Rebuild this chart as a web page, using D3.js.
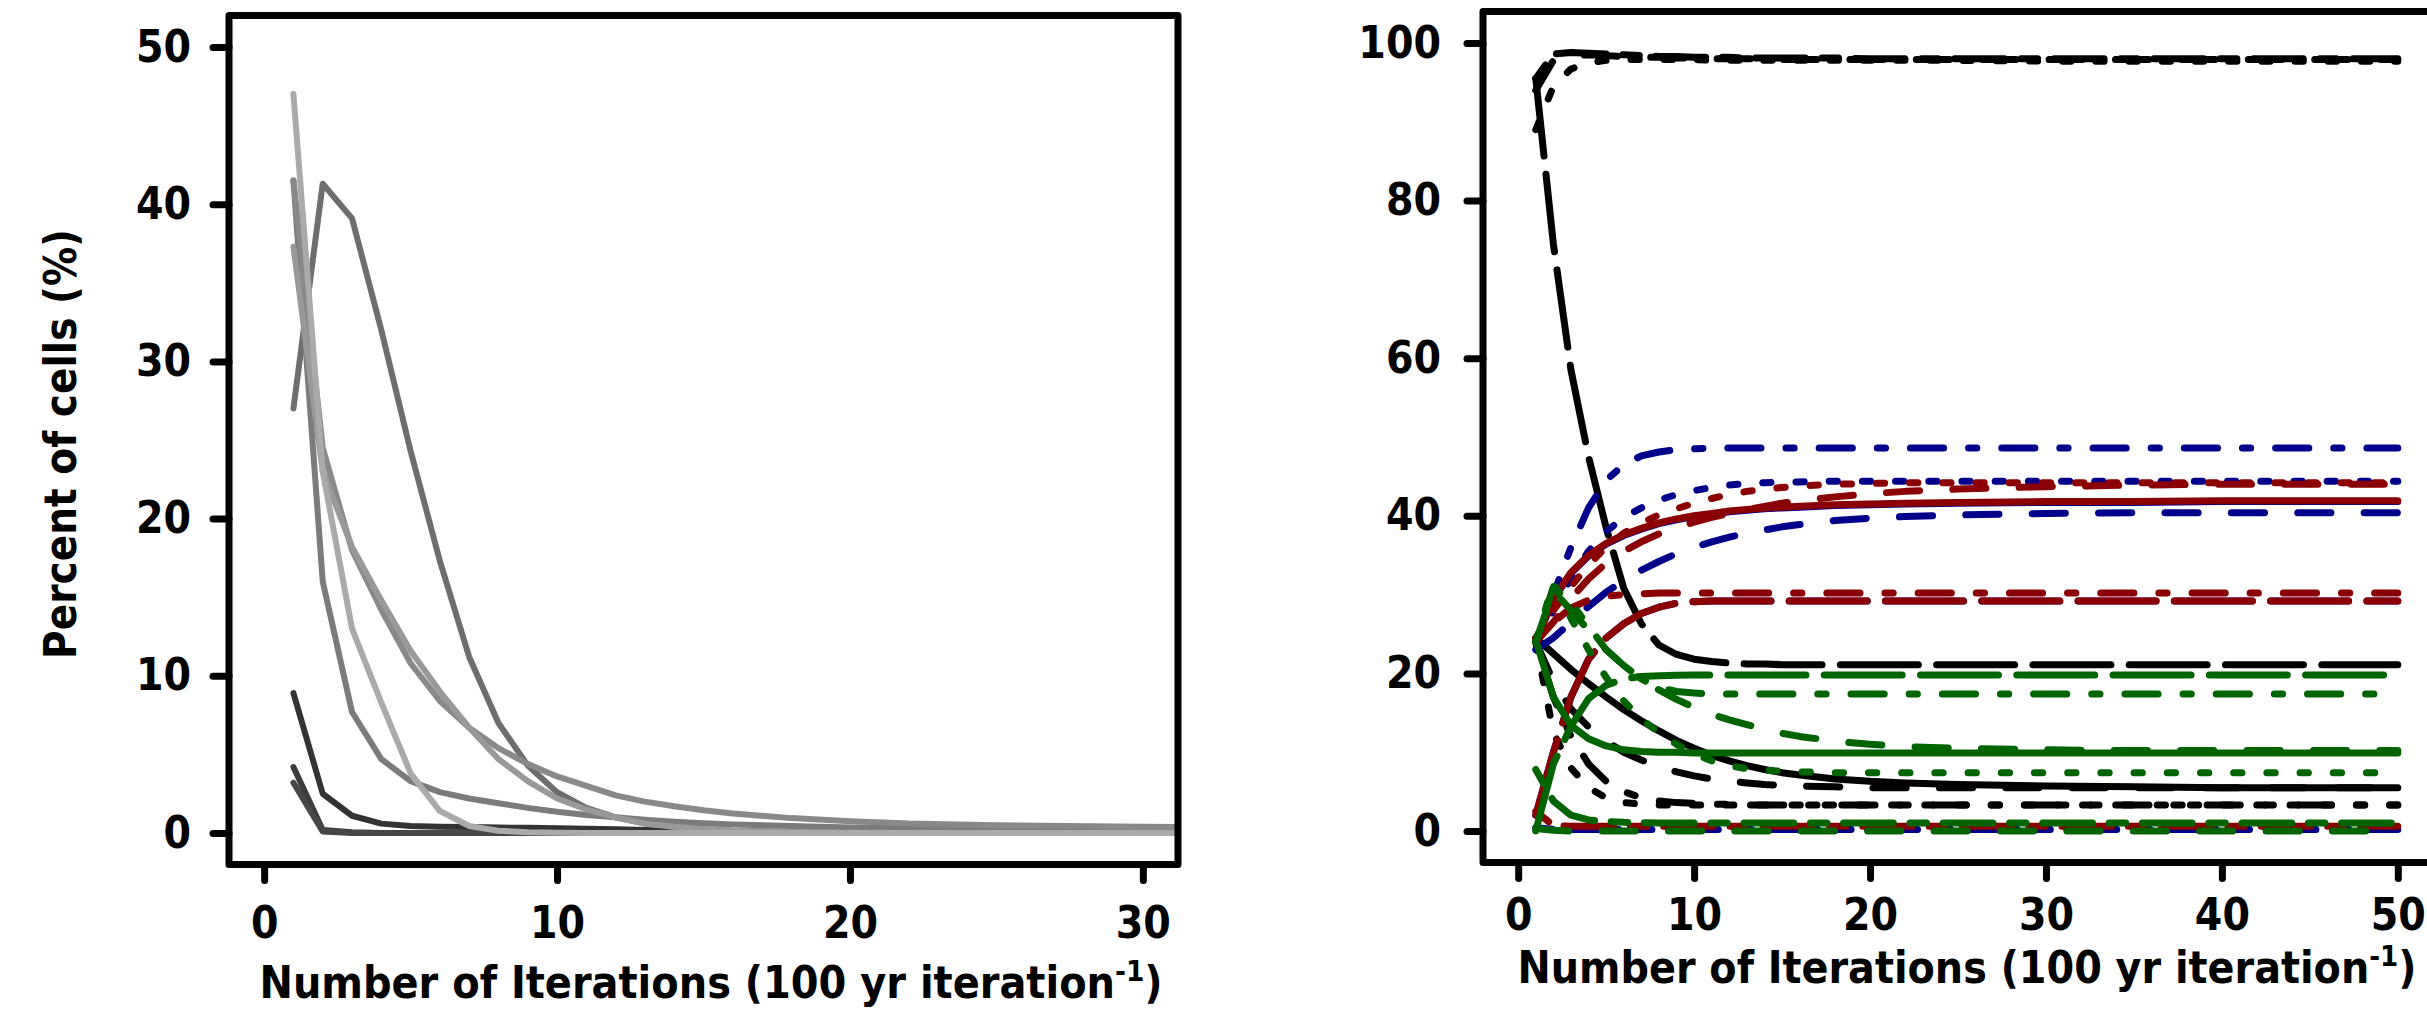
<!DOCTYPE html>
<html>
<head>
    <meta charset="utf-8">
    <title>Percent of cells by iteration</title>
    <style>
      body { margin: 0; background: #fff; }
      svg { display: block; }
      text {
        font-family: "DejaVu Sans Condensed", "DejaVu Sans", sans-serif;
        font-weight: bold;
        font-stretch: condensed;
      }
    </style>
</head>
<body>
<div id="chart"></div>

<script src="https://d3js.org/d3.v7.min.js"></script>
<script>
var leftIter  = [1,2,3,4,5,6,7,8,9,10,11,12,13,14,15,16,18,20,22,25,30,35,40,50];
var rightIter = [1,2,3,4,5,6,7,8,9,10,11,12,13,14,15,16,18,20,22,25,30,35,40,45,50];

// left panel: percent of cells, one array per grey line
var gray1 = [8.9, 2.5, 1.1, 0.6, 0.45, 0.4, 0.38, 0.35, 0.33, 0.3, 0.28, 0.25, 0.2, 0.15, 0.1, 0.08, 0.05, 0.03, 0.02, 0, 0, 0, 0, 0];
var gray2 = [4.2, 0.2, 0.05, 0, 0, 0, 0, 0, 0, 0, 0, 0, 0, 0, 0, 0, 0, 0, 0, 0, 0, 0, 0, 0];
var gray3 = [3.2, 0.1, 0, 0, 0, 0, 0, 0, 0, 0, 0, 0, 0, 0, 0, 0, 0, 0, 0, 0, 0, 0, 0, 0];
var grayPeak = [27, 41.3, 39.1, 32, 24.3, 17.3, 11.2, 7.0, 4.3, 2.6, 1.6, 1.0, 0.6, 0.4, 0.25, 0.15, 0.08, 0.04, 0.02, 0.01, 0, 0, 0, 0];
var gray5 = [41.5, 16, 7.7, 4.7, 3.3, 2.6, 2.2, 1.9, 1.6, 1.35, 1.15, 1.0, 0.85, 0.72, 0.62, 0.55, 0.45, 0.35, 0.3, 0.25, 0.2, 0.15, 0.12, 0.1];
var gray6 = [41.5, 24.5, 18.0, 14.2, 10.8, 8.4, 6.7, 5.4, 4.4, 3.6, 3.0, 2.4, 2.0, 1.7, 1.45, 1.25, 0.95, 0.75, 0.6, 0.5, 0.4, 0.35, 0.3, 0.3];
var gray7 = [37.3, 23, 18.2, 14.8, 11.6, 9.0, 6.7, 4.7, 3.3, 2.2, 1.5, 1.0, 0.6, 0.4, 0.25, 0.15, 0.06, 0.02, 0.01, 0, 0, 0, 0, 0];
var grayA = [47, 23, 13, 8.3, 3.8, 1.4, 0.45, 0.15, 0.05, 0.02, 0, 0, 0, 0, 0, 0, 0, 0, 0, 0, 0, 0, 0, 0];

// right panel: black lines
var blkTop1   = [95.5, 98.6, 98.8, 98.7, 98.6, 98.5, 98.4, 98.3, 98.3, 98.2, 98.2, 98.2, 98.1, 98.1, 98.1, 98.1, 98.1, 98.0, 98.0, 98.0, 98.0, 98.0, 98.0, 98.0, 98.0];
var blkTop2   = [89, 94.5, 96.7, 97.5, 97.8, 97.9, 97.9, 97.9, 97.9, 97.9, 97.8, 97.8, 97.8, 97.8, 97.8, 97.8, 97.8, 97.8, 97.8, 97.8, 97.7, 97.7, 97.7, 97.7, 97.7];
var blkTop3   = [94, 97.8, 98.4, 98.5, 98.4, 98.3, 98.2, 98.2, 98.1, 98.1, 98.0, 98.0, 98.0, 98.0, 97.9, 97.9, 97.9, 97.9, 97.9, 97.9, 97.9, 97.9, 97.9, 97.9, 97.9];
var blkLong   = [95.5, 74.5, 58.5, 47.5, 38.5, 30.8, 26.3, 23.6, 22.4, 21.8, 21.5, 21.3, 21.2, 21.2, 21.1, 21.1, 21.1, 21.1, 21.1, 21.1, 21.1, 21.1, 21.1, 21.1, 21.1];
var blkSolid  = [24.5, 22.5, 20.5, 18.7, 17.0, 15.4, 14.0, 12.7, 11.5, 10.5, 9.6, 8.9, 8.3, 7.8, 7.4, 7.1, 6.6, 6.3, 6.1, 5.9, 5.7, 5.6, 5.5, 5.5, 5.5];
var blkDashed = [24, 19, 15.5, 13.2, 11.4, 10.0, 9.0, 8.2, 7.5, 7.0, 6.6, 6.3, 6.1, 5.9, 5.8, 5.7, 5.6, 5.5, 5.5, 5.5, 5.5, 5.5, 5.5, 5.5, 5.5];
var blkDotted = [24, 12.5, 8.0, 5.5, 4.2, 3.6, 3.4, 3.3, 3.3, 3.3, 3.3, 3.3, 3.3, 3.3, 3.3, 3.3, 3.3, 3.3, 3.3, 3.3, 3.3, 3.3, 3.3, 3.3, 3.3];
var blkDotdash = [24, 17, 12, 8.5, 6.3, 5.0, 4.2, 3.8, 3.6, 3.5, 3.4, 3.4, 3.3, 3.3, 3.3, 3.3, 3.3, 3.3, 3.3, 3.3, 3.3, 3.3, 3.3, 3.3, 3.3];

// right panel: blue lines
var bluDotdash = [24, 30, 36, 41, 44.5, 46.5, 47.6, 48.1, 48.4, 48.5, 48.6, 48.6, 48.6, 48.6, 48.6, 48.6, 48.6, 48.6, 48.6, 48.6, 48.6, 48.6, 48.6, 48.6, 48.6];
var bluDotted  = [24, 28, 32, 35.5, 38, 39.8, 41, 42, 42.7, 43.2, 43.6, 43.9, 44.1, 44.2, 44.3, 44.3, 44.4, 44.4, 44.4, 44.4, 44.4, 44.4, 44.4, 44.4, 44.4];
var bluDashed  = [23, 24.5, 26.5, 28.5, 30.3, 31.8, 33.1, 34.2, 35.2, 36.0, 36.7, 37.3, 37.8, 38.2, 38.6, 38.9, 39.4, 39.7, 39.9, 40.1, 40.3, 40.4, 40.4, 40.4, 40.4];
var bluSolid   = [24, 29.4, 32.7, 34.9, 36.4, 37.5, 38.3, 39.0, 39.5, 39.9, 40.2, 40.5, 40.7, 40.9, 41.0, 41.1, 41.3, 41.4, 41.5, 41.6, 41.7, 41.7, 41.8, 41.8, 41.8];
var bluLong    = [2, 10, 17, 21.8, 24.5, 26.3, 27.6, 28.4, 28.9, 29.1, 29.2, 29.2, 29.2, 29.2, 29.2, 29.2, 29.2, 29.2, 29.2, 29.2, 29.2, 29.2, 29.2, 29.2, 29.2];
var bluTwodash = [0.4, 0.2, 0.2, 0.2, 0.2, 0.2, 0.2, 0.2, 0.2, 0.2, 0.2, 0.2, 0.2, 0.2, 0.2, 0.2, 0.2, 0.2, 0.2, 0.2, 0.2, 0.2, 0.2, 0.2, 0.2];

// right panel: red lines
var redSolid   = [24, 29.5, 32.8, 35, 36.5, 37.6, 38.4, 39.1, 39.6, 40.0, 40.3, 40.6, 40.8, 41.0, 41.1, 41.2, 41.4, 41.5, 41.6, 41.7, 41.8, 41.8, 41.9, 41.9, 41.9];
var redDotted  = [24.5, 28, 31, 33.8, 36, 37.8, 39.1, 40.1, 40.9, 41.6, 42.2, 42.7, 43.1, 43.4, 43.6, 43.8, 44.0, 44.1, 44.2, 44.2, 44.2, 44.2, 44.2, 44.2, 44.2];
var redDashed  = [24, 26.5, 29.5, 32, 34, 35.5, 36.7, 37.7, 38.5, 39.2, 39.8, 40.3, 40.8, 41.2, 41.6, 41.9, 42.4, 42.8, 43.1, 43.4, 43.7, 43.9, 44.0, 44.0, 44.0];
var redDotdash = [24, 26.5, 28.3, 29.3, 29.8, 30.0, 30.1, 30.2, 30.2, 30.2, 30.2, 30.2, 30.2, 30.2, 30.2, 30.2, 30.2, 30.2, 30.2, 30.2, 30.2, 30.2, 30.2, 30.2, 30.2];
var redLong    = [2, 10, 17, 21.8, 24.5, 26.3, 27.6, 28.4, 28.9, 29.1, 29.2, 29.2, 29.2, 29.2, 29.2, 29.2, 29.2, 29.2, 29.2, 29.2, 29.2, 29.2, 29.2, 29.2, 29.2];
var redTwodash = [2.5, 0.7, 0.6, 0.6, 0.6, 0.6, 0.6, 0.6, 0.6, 0.6, 0.6, 0.6, 0.6, 0.6, 0.6, 0.6, 0.6, 0.6, 0.6, 0.6, 0.6, 0.6, 0.6, 0.6, 0.6];

// right panel: green lines
var grnLong    = [0, 8.5, 13.3, 16.8, 18.5, 19.3, 19.6, 19.7, 19.75, 19.8, 19.8, 19.8, 19.8, 19.8, 19.8, 19.8, 19.8, 19.8, 19.8, 19.8, 19.8, 19.8, 19.8, 19.8, 19.8];
var grnSolid   = [24.2, 17, 13.4, 11.7, 10.8, 10.3, 10.1, 10.0, 10.0, 9.9, 9.9, 9.9, 9.9, 9.9, 9.9, 9.9, 9.9, 9.9, 9.9, 9.9, 9.9, 9.9, 9.9, 9.9, 9.9];
var grnDashed  = [24, 30.5, 28, 25.5, 23, 21, 19.3, 17.9, 16.7, 15.7, 14.8, 14.1, 13.5, 12.9, 12.4, 12.0, 11.4, 11.0, 10.7, 10.5, 10.3, 10.2, 10.2, 10.2, 10.2];
var grnDotdash = [24, 31, 29, 26, 23, 21, 19.3, 18.2, 17.7, 17.5, 17.4, 17.4, 17.4, 17.4, 17.4, 17.4, 17.4, 17.4, 17.4, 17.4, 17.4, 17.4, 17.4, 17.4, 17.4];
var grnDotted  = [24, 31.5, 27, 23, 19.5, 16.5, 14.2, 12.5, 11.0, 9.8, 8.9, 8.3, 7.9, 7.7, 7.6, 7.5, 7.4, 7.4, 7.4, 7.4, 7.4, 7.4, 7.4, 7.4, 7.4];
var grnTwodash = [7.8, 3.8, 2.0, 1.4, 1.2, 1.1, 1.05, 1.0, 1.0, 1.0, 1.0, 1.0, 1.0, 1.0, 1.0, 1.0, 1.0, 1.0, 1.0, 1.0, 1.0, 1.0, 1.0, 1.0, 1.0];
var grnZero    = [0.3, 0.1, 0, 0, 0, 0, 0, 0, 0, 0, 0, 0, 0, 0, 0, 0, 0, 0, 0, 0, 0, 0, 0, 0, 0];

// tick labels
var leftXTicks  = [0, 10, 20, 30];
var leftYTicks  = [0, 10, 20, 30, 40, 50];
var rightXTicks = [0, 10, 20, 30, 40, 50];
var rightYTicks = [0, 20, 40, 60, 80, 100];

// ---------- styles ----------
var blue = "#00008b", red = "#8b0000", green = "#006400", black = "#000";

var leftLines = [
  {v: gray1, c: "#333333"}, {v: gray2, c: "#3c3c3c"}, {v: gray3, c: "#464646"},
  {v: grayPeak, c: "#6e6e6e"}, {v: gray5, c: "#7b7b7b"}, {v: gray6, c: "#898989"},
  {v: gray7, c: "#999999"}, {v: grayA, c: "#aaaaaa"}
];

var rightLines = [
  {v: bluSolid, c: blue, lty: "solid"}, {v: bluLong, c: blue, lty: "longdash"},
  {v: bluTwodash, c: blue, lty: "twodash"},
  {v: blkTop1, c: black, lty: "twodash"}, {v: blkTop2, c: black, lty: "dotted"},
  {v: blkTop3, c: black, lty: "dashed"}, {v: blkLong, c: black, lty: "longdash"},
  {v: blkSolid, c: black, lty: "solid"}, {v: blkDashed, c: black, lty: "dashed"},
  {v: blkDotted, c: black, lty: "dotted"}, {v: blkDotdash, c: black, lty: "dotdash"},
  {v: bluDotdash, c: blue, lty: "dotdash"}, {v: bluDotted, c: blue, lty: "dotted"},
  {v: bluDashed, c: blue, lty: "dashed"},
  {v: redSolid, c: red, lty: "solid"}, {v: redDotted, c: red, lty: "dotted"},
  {v: redDashed, c: red, lty: "dashed"}, {v: redDotdash, c: red, lty: "dotdash"},
  {v: redLong, c: red, lty: "longdash"}, {v: redTwodash, c: red, lty: "twodash"},
  {v: grnLong, c: green, lty: "longdash"}, {v: grnSolid, c: green, lty: "solid"},
  {v: grnDashed, c: green, lty: "dashed"}, {v: grnDotdash, c: green, lty: "dotdash"},
  {v: grnDotted, c: green, lty: "dotted"}, {v: grnTwodash, c: green, lty: "twodash"},
  {v: grnZero, c: green, lty: "dashed"}
];

// R style line types, in units of dashUnit px (long dashes read a bit longer off the picture)
var dashUnit = 8.3;
var ltyPattern = {solid: null, dashed: [4,4], dotted: [1,3], dotdash: [1,3,4,3], longdash: [9.4,2.2], twodash: [2,2,6,2]};
function dashArray(lty) {
  var p = ltyPattern[lty];
  return p ? p.map(function(n){ return n * dashUnit; }).join(" ") : null;
}

var svg = d3.select("#chart").append("svg")
    .attr("width", 2427)
    .attr("height", 1024);

// scales (R adds 4% either side of the data range)
var xL = d3.scaleLinear().domain([-1.2, 31.2]).range([229, 1178]);
var yL = d3.scaleLinear().domain([-2, 52]).range([864.5, 15.5]);
var xR = d3.scaleLinear().domain([-2, 52]).range([1483, 2433]);
var yR = d3.scaleLinear().domain([-4, 104]).range([862.5, 11.5]);

svg.append("clipPath").attr("id", "clipL")
  .append("rect").attr("x", 229).attr("y", 15.5).attr("width", 949).attr("height", 849);

// ---------- left panel ----------
var lineL = d3.line()
    .x(function(d, i){ return xL(leftIter[i]); })
    .y(function(d){ return yL(d); });

svg.append("g").attr("clip-path", "url(#clipL)")
  .selectAll("path")
  .data(leftLines)
  .enter().append("path")
    .attr("d", function(d){ return lineL(d.v); })
    .attr("fill", "none")
    .attr("stroke", function(d){ return d.c; })
    .attr("stroke-width", 6)
    .attr("stroke-linejoin", "round")
    .attr("stroke-linecap", "round");

// ---------- right panel ----------
var lineR = d3.line()
    .x(function(d, i){ return xR(rightIter[i]); })
    .y(function(d){ return yR(d); });

svg.append("g")
  .selectAll("path")
  .data(rightLines)
  .enter().append("path")
    .attr("d", function(d){ return lineR(d.v); })
    .attr("fill", "none")
    .attr("stroke", function(d){ return d.c; })
    .attr("stroke-width", 7)
    .attr("stroke-dasharray", function(d){ return dashArray(d.lty); })
    .attr("stroke-linejoin", "round")
    .attr("stroke-linecap", "round");

// ---------- frames and axes ----------
function frame(x0, y0, x1, y1) {
  svg.append("rect")
    .attr("x", x0).attr("y", y0)
    .attr("width", x1 - x0).attr("height", y1 - y0)
    .attr("fill", "none")
    .attr("stroke", "#000")
    .attr("stroke-width", 7)
    .attr("stroke-linejoin", "round");
}
frame(229, 15.5, 1178, 864.5);
frame(1483, 11.5, 2433, 862.5);

function styleAxis(g) {
  g.select(".domain").remove();
  g.selectAll(".tick line")
    .attr("stroke-width", 7)
    .attr("stroke-linecap", "round");
  g.selectAll(".tick text")
    .attr("fill", "#000");
  g.attr("font-size", 44)
    .attr("font-family", null);
}

svg.append("g")
    .attr("transform", "translate(229,0)")
    .call(d3.axisLeft(yL).tickValues(leftYTicks).tickSize(16).tickPadding(22))
    .call(styleAxis);

svg.append("g")
    .attr("transform", "translate(0,864.5)")
    .call(d3.axisBottom(xL).tickValues(leftXTicks).tickSize(16).tickPadding(26))
    .call(styleAxis);

svg.append("g")
    .attr("transform", "translate(1483,0)")
    .call(d3.axisLeft(yR).tickValues(rightYTicks).tickSize(16).tickPadding(26))
    .call(styleAxis);

svg.append("g")
    .attr("transform", "translate(0,862.5)")
    .call(d3.axisBottom(xR).tickValues(rightXTicks).tickSize(16).tickPadding(20))
    .call(styleAxis);

// ---------- titles ----------
function xTitle(cx, baseline, width) {
  var t = svg.append("text")
    .attr("x", cx).attr("y", baseline)
    .attr("text-anchor", "middle")
    .attr("font-size", 44)
    .attr("textLength", width)
    .attr("lengthAdjust", "spacingAndGlyphs");
  t.append("tspan").text("Number of Iterations (100 yr iteration");
  t.append("tspan").attr("font-size", 29).attr("dy", -17).text("-1");
  t.append("tspan").attr("dy", 17).text(")");
}
xTitle(711, 998, 903);
xTitle(1967, 983, 899);

svg.append("text")
    .attr("transform", "translate(76,444) rotate(-90)")
    .attr("text-anchor", "middle")
    .attr("font-size", 44)
    .attr("textLength", 430)
    .attr("lengthAdjust", "spacingAndGlyphs")
    .text("Percent of cells (%)");
</script>
</body>
</html>
